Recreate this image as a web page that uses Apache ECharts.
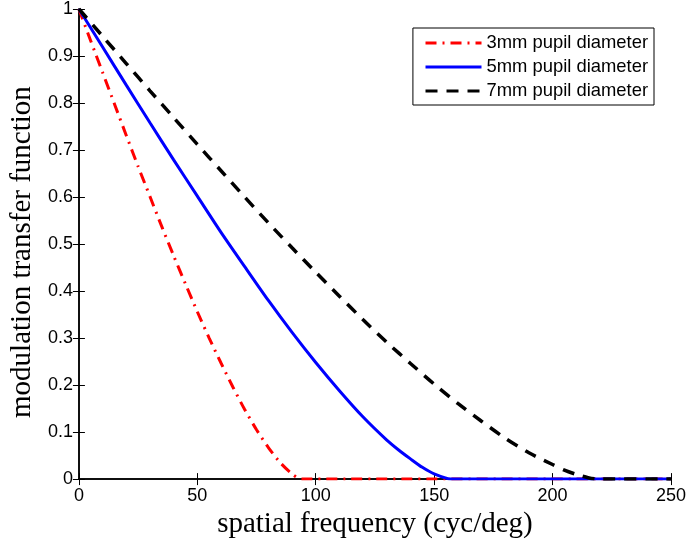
<!DOCTYPE html>
<html>
<head>
<meta charset="utf-8">
<script src="https://cdn.jsdelivr.net/npm/echarts@6/dist/echarts.min.js"></script>
<style>
html,body{margin:0;padding:0;background:#fff;}
#c{width:689px;height:544px;}
</style>
</head>
<body>
<div id="c"></div>
<script>
// Series names
var seriesNames = ['3mm pupil diameter', '5mm pupil diameter', '7mm pupil diameter'];

// 3mm pupil (red dash-dot)
var freq3 = [0, 5, 10, 15, 20, 25, 30, 35, 40, 45, 50, 55, 60, 65, 70, 75, 80, 85, 90, 94, 250];
var mtf3  = [1, 0.932, 0.865, 0.798, 0.731, 0.665, 0.601, 0.537, 0.475, 0.415, 0.356, 0.300, 0.247, 0.196, 0.148, 0.105, 0.067, 0.035, 0.011, 0, 0];

// 5mm pupil (blue solid)
var freq5 = [0, 10, 20, 30, 40, 50, 60, 70, 80, 90, 100, 110, 120, 130, 135, 140, 145, 150, 157, 250];
var mtf5  = [1, 0.919, 0.838, 0.758, 0.679, 0.602, 0.525, 0.452, 0.380, 0.312, 0.248, 0.188, 0.132, 0.083, 0.062, 0.043, 0.025, 0.011, 0, 0];

// 7mm pupil (black dashed)
var freq7 = [0, 10, 20, 30, 40, 50, 60, 70, 80, 90, 100, 110, 120, 130, 140, 150, 160, 170, 180, 190, 200, 205, 210, 215, 219, 250];
var mtf7  = [1, 0.942, 0.884, 0.826, 0.769, 0.712, 0.656, 0.600, 0.545, 0.492, 0.440, 0.389, 0.339, 0.291, 0.246, 0.202, 0.161, 0.123, 0.087, 0.056, 0.031, 0.019, 0.010, 0.003, 0, 0];

// Axis ticks
var xTicks = [0, 50, 100, 150, 200, 250];
var yTicks = [0, 0.1, 0.2, 0.3, 0.4, 0.5, 0.6, 0.7, 0.8, 0.9, 1];

function pairs(xs, ys) { return xs.map(function (x, i) { return [x, ys[i]]; }); }
function fmt(v) { return String(Math.round(v * 10) / 10); }

var chart = echarts.init(document.getElementById('c'), null, {renderer: 'canvas'});
var tickStyle = {show: true, inside: true, length: 6, lineStyle: {color: '#000', width: 1}};
var axisLineStyle = {show: true, lineStyle: {color: '#000', width: 1.5}};
var labelFont = {color: '#000', fontFamily: 'Liberation Sans, Arial, sans-serif', fontSize: 18};

chart.setOption({
  animation: false,
  backgroundColor: '#fff',
  grid: {left: 78, right: 17, top: 9, bottom: 60, containLabel: false},
  legend: {
    data: seriesNames,
    orient: 'vertical',
    right: 35,
    top: 28,
    padding: [6, 6, 5, 11],
    itemGap: 6,
    itemWidth: 56,
    itemHeight: 14,
    borderColor: '#000',
    borderWidth: 1,
    backgroundColor: '#fff',
    itemStyle: {opacity: 0},
    lineStyle: {width: 3.2},
    textStyle: {color: '#000', fontFamily: 'Liberation Sans, Arial, sans-serif', fontSize: 18.4, lineHeight: 18}
  },
  xAxis: [{
    type: 'value', min: xTicks[0], max: xTicks[xTicks.length - 1], interval: 50,
    name: 'spatial frequency (cyc/deg)', nameLocation: 'middle', nameGap: 28,
    nameTextStyle: {color: '#000', fontFamily: 'Liberation Serif, Times New Roman, serif', fontSize: 29},
    axisLine: axisLineStyle, axisTick: tickStyle,
    axisLabel: Object.assign({margin: 8, formatter: fmt}, labelFont),
    splitLine: {show: false}
  }, {
    type: 'value', position: 'top', min: xTicks[0], max: xTicks[xTicks.length - 1], interval: 50,
    axisLine: axisLineStyle, axisTick: tickStyle, axisLabel: {show: false}, splitLine: {show: false}
  }],
  yAxis: [{
    type: 'value', min: yTicks[0], max: yTicks[yTicks.length - 1], interval: 0.1,
    name: 'modulation transfer function', nameLocation: 'middle', nameGap: 40,
    nameTextStyle: {color: '#000', fontFamily: 'Liberation Serif, Times New Roman, serif', fontSize: 29, padding: [0, 16, 0, 0]},
    axisLine: axisLineStyle, axisTick: tickStyle,
    axisLabel: Object.assign({margin: 6, formatter: fmt}, labelFont),
    splitLine: {show: false}
  }, {
    type: 'value', position: 'right', min: yTicks[0], max: yTicks[yTicks.length - 1], interval: 0.1,
    axisLine: axisLineStyle, axisTick: tickStyle, axisLabel: {show: false}, splitLine: {show: false}
  }],
  series: [{
    name: seriesNames[0], type: 'line', symbol: 'none', clip: true, smooth: 0.25,
    data: pairs(freq3, mtf3),
    itemStyle: {color: '#ff0000'},
    lineStyle: {color: '#ff0000', width: 3, type: [11, 6, 2, 6]}
  }, {
    name: seriesNames[1], type: 'line', symbol: 'none', clip: true, smooth: 0.25,
    data: pairs(freq5, mtf5),
    itemStyle: {color: '#0000ff'},
    lineStyle: {color: '#0000ff', width: 3, type: 'solid'}
  }, {
    name: seriesNames[2], type: 'line', symbol: 'none', clip: true, smooth: 0.25,
    data: pairs(freq7, mtf7),
    itemStyle: {color: '#000000'},
    lineStyle: {color: '#000000', width: 3.5, type: [12, 9]}
  }]
});
</script>
</body>
</html>
